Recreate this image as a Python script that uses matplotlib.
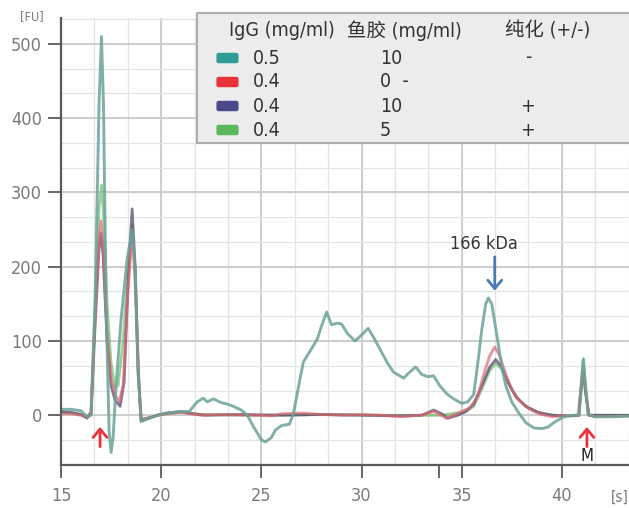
import matplotlib
matplotlib.use("Agg")
import matplotlib.pyplot as plt
from matplotlib.patches import Rectangle, FancyBboxPatch
import numpy as np

plt.rcParams["font.family"] = ["DejaVu Sans", "Noto Sans CJK SC"]
plt.rcParams["font.stretch"] = "condensed"

TEAL, RED, PURPLE, GREEN = "#2e9c94", "#e8323c", "#4a4a88", "#5cb85c"
GRID_MAJ, GRID_MIN, AXC, TXT = "#cbcbcb", "#e4e4e4", "#5a5a5a", "#7a7a7a"

# sample 1: IgG 0.5, 鱼胶 10, 未纯化
t_teal = [15.0, 15.5, 16.0, 16.3, 16.5, 16.7, 16.9, 17.02, 17.12, 17.25, 17.4, 17.5, 17.6, 17.75,
          18.0, 18.3, 18.55, 18.7, 18.85, 19.0, 19.3, 19.8, 20.3, 21.0, 21.4, 21.8, 22.1, 22.3,
          22.6, 23.0, 23.3, 23.6, 24.0, 24.3, 24.6, 25.0, 25.2, 25.5, 25.7, 26.0, 26.4, 26.6,
          26.9, 27.1, 27.4, 27.8, 28.0, 28.26, 28.5, 28.8, 29.0, 29.3, 29.67, 30.0, 30.33, 30.6,
          30.9, 31.3, 31.6, 32.1, 32.4, 32.7, 33.0, 33.3, 33.6, 33.9, 34.25, 34.6, 35.0, 35.3,
          35.6, 35.85, 36.0, 36.2, 36.33, 36.5, 36.8, 37.0, 37.2, 37.5, 37.8, 38.2, 38.6, 39.0,
          39.3, 39.7, 40.1, 40.5, 40.85, 41.0, 41.07, 41.15, 41.3, 41.6, 42.5, 43.4]
v_teal = [8, 8, 6, -2, 0, 150, 420, 510, 420, 150, -20, -50, -30, 40,
          130, 210, 250, 200, 60, -8, -5, 0, 3, 5, 5, 18, 23, 18,
          22, 17, 15, 12, 7, 0, -15, -33, -36, -30, -20, -14, -12, 2,
          45, 72, 85, 103, 120, 139, 122, 124, 123, 110, 100, 108, 117, 105,
          90, 70, 58, 50, 58, 65, 55, 52, 53, 40, 29, 22, 16, 18,
          28, 80, 115, 150, 158, 150, 100, 65, 40, 18, 5, -10, -17, -18,
          -16, -8, -2, 0, 0, 50, 76, 50, 2, -2, -2, -1]

# sample 2: IgG 0.4, 鱼胶 0
t_red = [15.0, 15.5, 16.0, 16.3, 16.5, 16.7, 16.9, 17.0, 17.1, 17.3, 17.5, 17.7, 17.9, 18.1,
         18.3, 18.5, 18.6, 18.75, 18.9, 19.0, 19.3, 19.8, 20.3, 21.0, 21.5, 22.0, 23.0, 24.0,
         25.0, 25.5, 26.0, 27.0, 28.0, 29.0, 30.0, 31.0, 32.0, 33.0, 33.6, 34.0, 34.2, 34.6,
         35.0, 35.4, 35.8, 36.1, 36.4, 36.65, 36.9, 37.2, 37.5, 37.8, 38.2, 38.6, 39.0, 39.5,
         40.0, 40.8, 40.95, 41.07, 41.2, 41.35, 41.7, 43.4]
v_red = [2, 2, 0, -3, 5, 130, 240, 262, 230, 110, 50, 28, 18, 40,
         150, 225, 232, 150, 40, -5, -4, 0, 2, 4, 2, 0, 1, 0,
         0, -1, 2, 3, 1, 0, 1, 0, -2, 0, 5, 0, -4, 0,
         5, 10, 25, 55, 80, 92, 80, 55, 35, 22, 12, 5, 1, -2,
         -1, 0, 35, 62, 30, 0, -2, -1]

# sample 3: IgG 0.4, 鱼胶 10, 纯化
t_purple = [15.0, 15.5, 16.0, 16.3, 16.5, 16.7, 16.9, 17.0, 17.1, 17.3, 17.5, 17.7, 17.95, 18.15,
            18.35, 18.55, 18.7, 18.85, 19.0, 19.3, 19.8, 20.3, 21.0, 21.6, 22.2, 24.0, 26.0, 28.0,
            30.0, 32.0, 33.0, 33.6, 34.0, 34.3, 34.8, 35.2, 35.6, 36.0, 36.4, 36.7, 37.0, 37.3,
            37.7, 38.2, 38.8, 39.5, 40.5, 40.85, 40.98, 41.07, 41.18, 41.35, 43.4]
v_purple = [5, 4, 1, -4, 3, 120, 225, 245, 215, 100, 40, 20, 12, 45,
            180, 278, 200, 60, -8, -5, 0, 3, 5, 2, 0, 1, 0, 1,
            0, -1, 0, 7, 2, -4, 0, 5, 15, 40, 65, 75, 65, 45,
            25, 12, 4, 0, -1, 0, 40, 60, 30, 0, 0]

# sample 4: IgG 0.4, 鱼胶 5, 纯化
t_green = [15.0, 15.5, 16.0, 16.3, 16.5, 16.7, 16.9, 17.03, 17.15, 17.3, 17.5, 17.7, 17.85, 18.1,
           18.35, 18.55, 18.7, 18.85, 19.0, 19.4, 20.0, 21.0, 22.0, 25.0, 28.0, 31.0, 34.0, 35.2,
           35.6, 36.0, 36.4, 36.7, 37.0, 37.4, 37.8, 38.3, 39.0, 40.0, 40.85, 40.98, 41.07, 41.18,
           41.35, 43.4]
v_green = [4, 3, 1, -3, 3, 150, 280, 310, 260, 150, 70, 38, 40, 100,
           200, 255, 190, 55, -6, -3, 1, 4, 1, 0, 1, 0, 0, 5,
           12, 35, 60, 70, 62, 40, 22, 10, 2, -1, 0, 50, 74, 35,
           0, 0]

igg = ["0.5", "0.4", "0.4", "0.4"]
glue = ["10", "0  -", "10", "5"]
purif = ["-", "", "+", "+"]

fig = plt.figure(figsize=(6.29, 5.08), dpi=100)
ax = fig.add_axes([61 / 629, 43 / 508, 568 / 629, 447 / 508])
ax.set_xlim(15, 43.35)
ax.set_ylim(-67, 535)

# grid (drawn by hand: minor every 5/3 s and 33.3 FU)
for x in np.arange(15, 43.4, 5 / 3):
    ax.axvline(x, color=GRID_MIN, lw=0.9, zorder=0)
for x in [20, 25, 30, 35, 40]:
    ax.axvline(x, color=GRID_MAJ, lw=1.3, zorder=0)
for y in np.arange(-200 / 3, 535, 100 / 3):
    ax.axhline(y, color=GRID_MIN, lw=0.9, zorder=0)
for y in range(0, 501, 100):
    ax.axhline(y, color=GRID_MAJ, lw=1.3, zorder=0)

ax.plot(t_green, v_green, color="#6cbf6c", lw=2.0, alpha=0.7)
ax.plot(t_purple, v_purple, color="#4d3f6a", lw=2.0, alpha=0.7)
ax.plot(t_red, v_red, color="#e06670", lw=2.0, alpha=0.7)
ax.plot(t_teal, v_teal, color="#6aa39a", lw=2.1, alpha=0.85)

for s in ["top", "right"]:
    ax.spines[s].set_visible(False)
for s in ["left", "bottom"]:
    ax.spines[s].set_color(AXC)
    ax.spines[s].set_linewidth(1.6)

ax.set_yticks([0, 100, 200, 300, 400, 500])
ax.set_xticks([15, 20, 25, 30, 33.86, 35, 40])
ax.set_xticklabels(["15", "20", "25", "30", "", "35", "40"])
ax.tick_params(axis="both", direction="out", length=9.5, width=1.3, color=AXC,
               labelsize=13, labelcolor=TXT, pad=4)
ax.tick_params(axis="x", pad=6)

fig.text(20 / 629, 1 - 17 / 508, "[FU]", fontsize=9, color=TXT, va="center")
fig.text(620 / 629, 1 - 497 / 508, "[s]", fontsize=11, color=TXT, va="center", ha="center")

# annotations
ax.text(36.1, 230, "166 kDa", fontsize=13, color="#333333", ha="center", va="center")
ax.annotate("", xy=(36.65, 164), xytext=(36.65, 217),
            arrowprops=dict(arrowstyle="->,head_length=0.6,head_width=0.5", color="#4a7ab5", lw=2))
ax.annotate("", xy=(16.95, -12), xytext=(16.95, -46),
            arrowprops=dict(arrowstyle="->,head_length=0.6,head_width=0.5", color="#e8323c", lw=2))
ax.annotate("", xy=(41.25, -12), xytext=(41.25, -46),
            arrowprops=dict(arrowstyle="->,head_length=0.6,head_width=0.5", color="#e8323c", lw=2))
ax.text(41.25, -55, "M", fontsize=12, color="#222222", ha="center", va="center")

# legend table
fig.patches.append(Rectangle((197 / 629, 1 - 143 / 508), 0.7, 130 / 508, transform=fig.transFigure,
                             facecolor="#ececec", edgecolor="#adadad", lw=1.5, zorder=5))
hy = 1 - 31 / 508
fig.text(229 / 629, hy, "IgG (mg/ml)", fontsize=14, color="#333333", va="center", zorder=6)
fig.text(347 / 629, hy, "鱼胶 (mg/ml)", fontsize=14, color="#333333", va="center", zorder=6)
fig.text(505 / 629, hy, "纯化 (+/-)", fontsize=14, color="#333333", va="center", zorder=6)
rows_y = [58, 82, 106, 130]
for i, (c, a, b, p) in enumerate(zip([TEAL, RED, PURPLE, GREEN], igg, glue, purif)):
    y = 1 - rows_y[i] / 508
    fig.patches.append(FancyBboxPatch((219 / 629, y - 3 / 508), 17 / 629, 6 / 508,
                                      boxstyle="round,pad=0.003", transform=fig.transFigure,
                                      facecolor=c, edgecolor=c, zorder=6))
    fig.text(253 / 629, y, a, fontsize=14, color="#333333", va="center", zorder=6)
    fig.text(380 / 629, y, b, fontsize=14, color="#333333", va="center", zorder=6)
    fig.text(528 / 629, y, p, fontsize=14, color="#333333", va="center", ha="center", zorder=6)

fig.savefig("out.png", dpi=100)
